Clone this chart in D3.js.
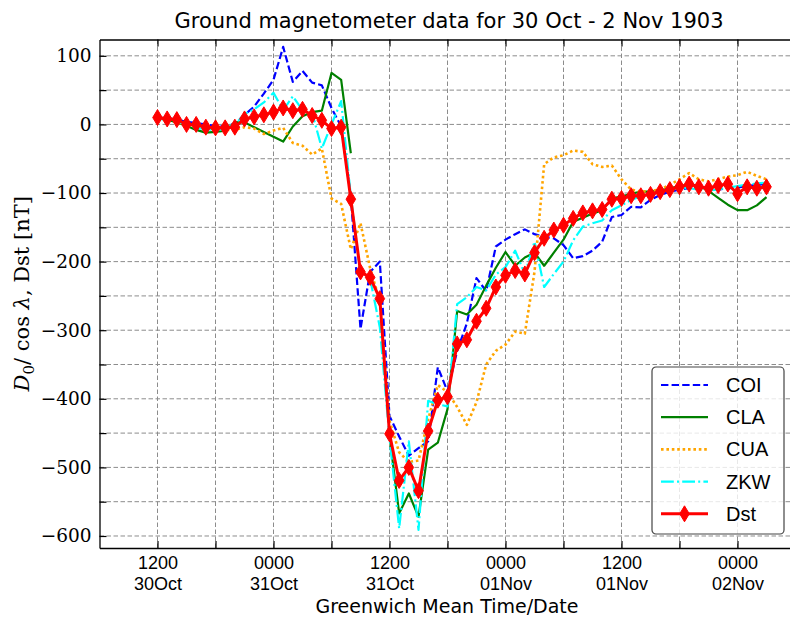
<!DOCTYPE html>
<html>
<head>
<meta charset="utf-8">
<script src="https://cdn.jsdelivr.net/npm/d3@7"></script>
<style>
  body { margin: 0; background: #fff; }
  svg { display: block; }
</style>
</head>
<body>
<script>
// hours counted from 0000 30 Oct 1903 (GMT), hourly samples 1200 30Oct .. 0300 02Nov
const hours = d3.range(12, 76);

const dst = [10, 8, 7, 0, 0, -4, -5, -5, -4, 8, 11, 14, 18, 24, 20, 22, 13, 6, -6, -4,
  -109, -215, -223, -254, -451, -519, -500, -534, -447, -402, -397, -320, -314, -287, -268, -237, -220, -213, -218, -187,
  -166, -154, -147, -137, -129, -126, -124, -109, -108, -104, -104, -102, -98, -95, -91, -87, -91, -93, -89, -87,
  -101, -91, -93, -91];

const coi = [10, 9, 7, 4, 2, 0, -2, -3, 1, 14, 26, 45, 65, 113, 62, 78, 61, 57, 24, -3,
  -105, -298, -215, -200, -425, -455, -483, -472, -462, -354, -389, -330, -290, -224, -243, -178, -168, -160, -153, -160,
  -164, -166, -176, -195, -192, -184, -171, -135, -132, -120, -121, -110, -103, -98, -95, -93, -92, -94, -95, -93,
  -92, -90, -88, -87];

const cla = [10, 7, 3, -2, -8, -12, -11, -9, 3, 3, -4, -11, -18, -25, -3, 12, 18, 20, 75, 65,
  -42, null, null, null, -454, -567, -538, -572, -474, -464, -415, -272, -277, -263, -235, -209, -186, -206, -194, -187,
  -206, -187, -168, -142, -136, -130, -125, -108, -105, -101, -98, -98, -96, -93, -90, -88, -89, -97, -107, -117,
  -125, -125, -118, -106];

const cua = [8, 6, 3, 0, -3, -5, -7, -8, -8, -4, -6, -14, -9, -5, -27, -31, -44, -35, -108, -116,
  -182, -144, -210, -258, -432, -478, -492, -490, -430, -380, -390, -412, -438, -405, -350, -330, -321, -302, -305, -215,
  -58, -48, -45, -38, -40, -58, -62, -60, -80, -95, -98, -97, -95, -88, -80, -71, -80, -83, -80, -76,
  -74, -69, -75, -80];

const zkw = [8, 7, 5, -1, -5, -7, -8, -7, 0, 15, 22, 32, 46, 21, 41, 21, 17, -35, 0, 34,
  -105, -218, -225, -296, -457, -589, -462, -591, -403, -408, -411, -262, -252, -237, -242, -219, -208, -184, -218, -171,
  -237, -218, -200, -169, -149, -144, -140, -125, -118, -110, -105, -103, -98, -95, -93, -93, -95, -96, -95, -92,
  -90, -88, -86, -85];

const xTicks = [12, 24, 36, 48, 60, 72];
const xTimeLabels = ["1200", "0000", "1200", "0000", "1200", "0000"];
const xDateLabels = ["30Oct", "31Oct", "31Oct", "01Nov", "01Nov", "02Nov"];
const yTicks = [100, 0, -100, -200, -300, -400, -500, -600];

const W = 790, H = 618;
const L = 99.5, T = 39.5, B = 548, R = 795.5;
const sans = "'Liberation Sans', Arial, sans-serif";
const wide = "'DejaVu Sans', sans-serif";
const serif = "'DejaVu Serif', serif";

const svg = d3.select("body").append("svg")
  .attr("width", W).attr("height", H);

const x = d3.scaleLinear().domain([6, 78]).range([L, R]);
const y = d3.scaleLinear().domain([-617.5, 123.8]).range([B, T]);

svg.append("clipPath").attr("id", "plot")
  .append("rect").attr("x", L).attr("y", T).attr("width", R - L).attr("height", B - T);

// grid
const grid = svg.append("g").attr("stroke", "#8c8c8c").attr("stroke-width", 1)
  .attr("stroke-dasharray", "4.5,2.5");
grid.selectAll(".vg").data(d3.range(12, 78, 6)).enter().append("line")
  .attr("x1", d => x(d)).attr("x2", d => x(d)).attr("y1", T).attr("y2", B);
grid.selectAll(".hg").data(d3.range(-600, 101, 50)).enter().append("line")
  .attr("x1", L).attr("x2", R).attr("y1", d => y(d)).attr("y2", d => y(d));

// series
const series = [
  {name: "COI", data: coi, color: "#0000ff", width: 2.2, dash: "7.4,3.2"},
  {name: "CLA", data: cla, color: "#008000", width: 2.2, dash: null},
  {name: "CUA", data: cua, color: "#ffa500", width: 2.6, dash: "2.6,2.8"},
  {name: "ZKW", data: zkw, color: "#00ffff", width: 2.2, dash: "12.8,3.2,2,3.2"},
  {name: "Dst", data: dst, color: "#ff0000", width: 3, dash: null}
];

const line = d3.line()
  .defined(d => d[1] !== null)
  .x(d => x(d[0])).y(d => y(d[1]));

const plot = svg.append("g").attr("clip-path", "url(#plot)");
series.forEach(s => {
  plot.append("path")
    .datum(hours.map((h, i) => [h, s.data[i]]))
    .attr("d", line)
    .attr("fill", "none")
    .attr("stroke", s.color)
    .attr("stroke-width", s.width)
    .attr("stroke-dasharray", s.dash)
    .attr("stroke-linejoin", "round");
});

const diamond = "M0,-8L4.8,0L0,8L-4.8,0Z";
plot.selectAll(".mk").data(hours.map((h, i) => [h, dst[i]])).enter().append("path")
  .attr("d", diamond)
  .attr("transform", d => "translate(" + x(d[0]) + "," + y(d[1]) + ")")
  .attr("fill", "#ff0000")
  .attr("stroke", "#ff0000")
  .attr("stroke-width", 1);

// axes
const xAxis = svg.append("g")
  .attr("transform", "translate(0," + B + ")")
  .call(d3.axisBottom(x).tickValues(xTicks).tickSizeInner(-7).tickSizeOuter(0).tickFormat(""));
svg.append("g")
  .attr("transform", "translate(0," + B + ")")
  .call(d3.axisBottom(x).tickValues([18, 30, 42, 54, 66]).tickSizeInner(-7).tickSizeOuter(0).tickFormat(""))
  .select(".domain").remove();
svg.append("g")
  .attr("transform", "translate(0," + T + ")")
  .call(d3.axisTop(x).tickValues(d3.range(12, 78, 6)).tickSizeInner(-7).tickSizeOuter(0).tickFormat(""));

xAxis.selectAll(".tick").each(function(d, i) {
  const t = d3.select(this).append("text")
    .attr("fill", "#000")
    .attr("text-anchor", "middle")
    .style("font-family", sans)
    .style("font-size", "18px");
  t.append("tspan").attr("x", 0).attr("y", 21).text(xTimeLabels[i]);
  t.append("tspan").attr("x", 0).attr("y", 42).text(xDateLabels[i]);
});

const yAxis = svg.append("g")
  .attr("transform", "translate(" + L + ",0)")
  .call(d3.axisLeft(y).tickValues(yTicks).tickSizeInner(-7).tickSizeOuter(0).tickPadding(8)
    .tickFormat(d => d < 0 ? "\u2212" + Math.abs(d) : d));
yAxis.selectAll(".tick text")
  .style("font-family", serif)
  .style("font-size", "18.5px");
svg.append("g")
  .attr("transform", "translate(" + L + ",0)")
  .call(d3.axisLeft(y).tickValues(d3.range(-550, 100, 100)).tickSizeInner(-7).tickSizeOuter(0).tickFormat(""))
  .select(".domain").remove();

svg.selectAll(".domain").attr("stroke", "#000").attr("stroke-width", 1.3);
svg.selectAll(".tick line").attr("stroke", "#000").attr("stroke-width", 1.2);

// title and labels
svg.append("text")
  .attr("x", 449).attr("y", 28)
  .attr("text-anchor", "middle")
  .style("font-family", wide).style("font-size", "21px")
  .text("Ground magnetometer data for 30 Oct - 2 Nov 1903");

svg.append("text")
  .attr("x", 447).attr("y", 613)
  .attr("text-anchor", "middle")
  .style("font-family", wide).style("font-size", "19px")
  .text("Greenwich Mean Time/Date");

const yl = svg.append("text")
  .attr("transform", "translate(29," + ((T + B) / 2) + ") rotate(-90)")
  .attr("text-anchor", "middle")
  .style("font-family", serif).style("font-size", "21px");
yl.append("tspan").style("font-style", "italic").text("D");
yl.append("tspan").attr("dy", 5).style("font-size", "15px").text("0");
yl.append("tspan").attr("dy", -5).text("/ cos ");
yl.append("tspan").style("font-style", "italic").text("\u03bb");
yl.append("tspan").text(", Dst [nT]");

// legend
const lg = svg.append("g").attr("transform", "translate(652,367)");
lg.append("rect")
  .attr("width", 132).attr("height", 167).attr("rx", 4)
  .attr("fill", "#fff").attr("fill-opacity", 0.8)
  .attr("stroke", "#444").attr("stroke-width", 1.2);
series.forEach((s, i) => {
  const yy = 18 + i * 32.2;
  lg.append("line")
    .attr("x1", 9).attr("x2", 56).attr("y1", yy).attr("y2", yy)
    .attr("stroke", s.color).attr("stroke-width", s.width)
    .attr("stroke-dasharray", s.dash);
  if (s.name === "Dst") {
    lg.append("path").attr("d", diamond)
      .attr("transform", "translate(32.5," + yy + ")")
      .attr("fill", s.color).attr("stroke", s.color);
  }
  lg.append("text")
    .attr("x", 74).attr("y", yy + 7)
    .style("font-family", sans).style("font-size", "20px")
    .text(s.name);
});
</script>
</body>
</html>
